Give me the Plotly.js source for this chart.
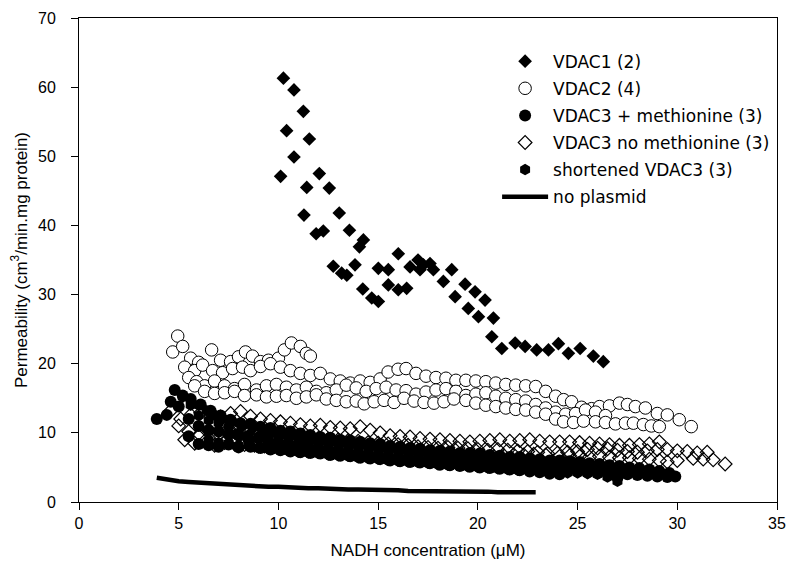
<!DOCTYPE html>
<html>
<head>
<meta charset="utf-8">
<script src="https://cdn.plot.ly/plotly-3.0.1.min.js"></script>
<style>html,body{margin:0;padding:0;background:#fff;}#chart{width:789px;height:570px;}</style>
</head>
<body>
<div id="chart"></div>
<script>
// ---------- Data ----------
const seriesNames = ["VDAC1 (2)", "VDAC2 (4)", "VDAC3 + methionine (3)", "VDAC3 no methionine (3)", "shortened VDAC3 (3)", "no plasmid"];

// VDAC1 (filled diamonds)
const vdac1X = [10.11,10.25,10.41,10.78,10.78,11.25,11.28,11.42,11.55,11.89,12.05,12.25,12.55,12.75,13.05,13.17,13.43,13.56,13.84,14.06,14.23,14.26,14.68,15.01,15.01,15.51,15.51,16.01,16.01,16.43,16.6,17.0,17.1,17.27,17.6,17.77,18.27,18.69,18.86,19.36,19.52,19.86,20.03,20.36,20.7,20.78,21.2,21.87,22.37,22.95,23.54,24.04,24.54,25.13,25.79,26.29];
const vdac1Y = [47.1,61.3,53.7,59.6,49.9,56.5,41.5,45.5,52.5,38.8,47.5,39.2,45.4,34.1,41.8,33.1,32.8,39.3,34.3,36.9,30.8,37.9,29.5,29.0,33.8,33.6,31.4,30.7,35.9,30.9,34.0,35.0,33.6,34.3,34.5,33.6,31.9,33.6,29.7,31.5,28.0,30.4,26.8,29.2,23.9,26.6,22.2,23.0,22.5,22.0,22.0,22.9,21.5,22.2,21.1,20.3];

// VDAC2 (open circles), four runs
const vdac2aX = [4.7,4.95,5.2,5.6,6.0,6.65,7.1,7.6,8.0,8.35,8.7,9.1,9.5,10.0,10.3,10.65,11.1,11.4,11.6];
const vdac2aY = [21.7,24.0,22.5,20.8,20.2,22.0,20.5,20.3,21.0,21.7,21.1,20.3,20.5,20.8,22.0,23.0,22.5,21.5,21.1];
const vdac2bX = [5.3,5.8,6.2,6.7,7.2,7.7,8.2,8.6,9.1,9.6,10.1,10.6,11.1,11.6,12.1,12.6,13.1,13.6,14.1,14.6,15.1,15.5,16.0,16.4,16.9,17.4,17.9,18.4,18.9,19.4,19.9,20.4,20.9,21.4,21.9,22.4,22.9,23.4,23.9,24.3,24.7,25.2,25.7,26.1,26.6,27.1,27.5,27.9,28.4,29.0,29.5,30.1,30.7];
const vdac2bY = [19.5,19.0,19.8,19.0,18.7,19.3,19.5,19.0,19.6,20.0,19.5,19.0,18.6,18.3,18.6,17.8,17.5,17.2,17.5,17.3,17.8,18.8,19.2,19.3,18.6,18.2,18.0,17.9,17.6,17.6,17.5,17.4,17.2,17.0,16.9,16.8,16.7,16.0,15.3,14.8,14.5,13.7,13.5,13.8,13.9,14.3,14.1,13.8,13.6,12.8,12.6,11.9,10.9];
const vdac2cX = [5.5,5.9,6.3,6.8,7.3,7.8,8.3,8.9,9.4,9.9,10.4,10.9,11.4,11.9,12.4,12.9,13.4,13.9,14.4,14.9,15.4,15.9,16.4,16.9,17.4,17.9,18.4,18.9,19.4,19.9,20.4,20.9,21.4,21.9,22.4,22.9,23.4,23.9,24.4,24.9,25.4,25.9,26.4];
const vdac2cY = [18.0,17.4,16.8,17.5,16.8,16.4,17.0,16.2,16.8,17.0,16.6,16.2,16.6,16.0,15.8,16.2,16.9,16.5,16.0,16.4,16.6,16.2,16.1,15.6,15.9,16.2,16.4,16.0,15.4,15.6,15.8,15.3,15.0,14.8,14.6,14.1,13.6,13.0,12.7,12.8,13.3,13.0,12.5];
const vdac2dX = [5.8,6.3,6.8,7.3,7.8,8.3,8.9,9.4,9.9,10.4,10.9,11.4,11.9,12.4,12.9,13.4,13.9,14.3,14.8,15.3,15.8,16.3,16.8,17.3,17.8,18.3,18.8,19.4,19.9,20.4,20.9,21.4,21.9,22.4,22.9,23.4,23.9,24.3,24.8,25.3,25.9,26.4,26.9,27.4,27.8,28.3,28.7,29.1];
const vdac2dY = [16.8,16.0,15.7,15.8,16.0,15.4,15.5,15.2,15.3,15.4,15.0,15.2,15.5,14.9,14.7,14.5,14.6,14.2,14.5,14.7,14.4,15.0,14.6,14.4,14.3,14.5,14.9,14.7,14.3,14.0,13.8,13.6,13.4,13.3,13.0,12.7,12.0,11.6,11.5,11.7,11.6,11.5,11.3,11.4,11.4,11.2,11.0,10.9];

// VDAC3 + methionine (filled circles), three runs
const met1X = [3.9,4.4,4.8,5.2,5.6,6.1,6.6,7.1,7.6,8.1,8.6,9.1,9.6,10.1,10.6,11.1,11.6,12.1,12.6,13.1,13.6,14.1,14.6,15.1,15.6,16.1,16.6,17.1,17.6,18.1,18.6,19.1,19.6,20.1,20.6,21.1,21.6,22.1,22.6,23.1,23.6,24.1,24.6,25.1,25.6,26.1,26.6,27.1,27.6,28.1,28.6,29.1,29.6];
const met1Y = [12.0,12.6,16.2,15.4,14.9,14.1,13.2,12.5,11.9,11.4,11.3,10.9,10.7,10.3,10.2,9.9,9.7,9.4,9.3,9.0,8.9,8.7,8.5,8.4,8.1,8.0,7.8,7.7,7.5,7.4,7.3,7.1,7.1,7.0,6.8,6.7,6.5,6.5,6.3,6.2,6.0,6.0,5.9,5.8,5.6,5.5,5.3,5.2,5.0,4.9,4.7,4.5,4.2];
const met2X = [4.6,5.0,5.5,6.0,6.5,7.0,7.5,8.0,8.5,9.0,9.5,10.0,10.5,11.0,11.5,12.0,12.5,13.0,13.5,14.0,14.5,15.0,15.5,16.0,16.5,17.0,17.5,18.0,18.5,19.0,19.5,20.0,20.5,21.0,21.5,22.0,22.5,23.0,23.5,24.0,24.5,25.0,25.5,26.0,26.5,27.0,27.5,28.0,28.5,29.0,29.5,29.9];
const met2Y = [14.5,13.8,12.0,11.0,10.4,10.2,9.8,9.6,9.0,9.2,8.8,8.6,8.3,8.4,8.0,7.8,7.6,7.5,7.2,7.0,6.9,6.7,6.6,6.4,6.3,6.2,6.0,5.9,5.8,5.7,5.6,5.5,5.3,5.2,5.2,5.0,4.9,4.8,4.7,4.6,4.5,4.4,4.3,4.2,4.1,3.5,4.0,3.9,3.8,3.7,3.6,3.7];
const met3X = [5.5,6.0,6.5,7.0,7.5,8.0,8.6,9.1,9.6,10.1,10.6,11.1,11.6,12.1,12.6,13.1,13.6,14.1,14.6,15.1,15.6,16.1,16.6,17.1,17.6,18.1,18.6,19.1,19.6,20.1,20.6,21.1,21.6,22.1,22.6,23.1,23.6,24.1];
const met3Y = [9.5,8.4,8.2,8.0,8.3,7.9,8.0,7.8,7.6,7.5,7.3,7.2,7.1,7.0,6.8,6.7,6.6,6.4,6.3,6.2,6.0,5.9,5.8,5.7,5.6,5.4,5.3,5.2,5.1,5.0,4.9,4.8,4.7,4.6,4.4,4.3,4.1,4.0];

// VDAC3 no methionine (open diamonds), three runs
const nomet1X = [4.6,5.1,5.6,6.1,6.6,7.1,7.6,8.1,8.6,9.1,9.6,10.1,10.6,11.1,11.6,12.1,12.6,13.1,13.6,14.1,14.6,15.1,15.6,16.1,16.6,17.1,17.6,18.1,18.6,19.1,19.6,20.1,20.6,21.1,21.6,22.1,22.6,23.1,23.6,24.1,24.6,25.1,25.6,26.1,26.6,27.1,27.6,28.1,28.6,29.1];
const nomet1Y = [13.2,12.0,12.6,12.9,12.5,12.3,12.8,13.1,12.4,12.0,11.8,11.6,11.4,11.2,11.0,11.1,10.8,10.7,10.6,10.9,10.4,10.0,9.6,9.5,9.4,9.2,9.1,9.0,8.9,8.8,8.7,8.8,8.9,9.0,8.8,8.9,9.0,8.8,8.7,8.7,8.7,8.6,8.5,8.4,8.3,8.2,8.2,8.3,8.4,8.7];
const nomet2X = [5.0,5.5,6.0,6.5,7.0,7.5,8.0,8.5,9.0,9.5,10.0,10.5,11.0,11.5,12.0,12.5,13.0,13.5,14.0,14.5,15.0,15.5,16.0,16.5,17.0,17.5,18.0,18.5,19.0,19.5,20.0,20.5,21.0,21.5,22.0,22.5,23.0,23.5,24.0,24.5,25.0,25.5,26.0,26.5,27.0,27.5,28.0,28.5,29.0,29.5,30.0,30.5,31.0,31.5];
const nomet2Y = [11.0,10.2,9.5,10.3,9.8,10.6,10.4,10.2,10.0,9.9,9.7,9.6,9.5,9.3,9.2,9.1,9.0,8.9,8.8,8.6,8.5,8.4,8.3,8.2,8.0,7.9,7.8,7.9,7.8,7.7,7.6,7.5,7.6,7.5,7.4,7.3,7.2,7.0,7.1,7.2,7.3,7.6,7.8,7.7,7.5,7.3,7.2,7.4,7.6,7.6,7.4,7.3,7.1,7.2];
const nomet3X = [5.3,5.8,6.3,6.8,7.3,7.8,8.3,8.8,9.3,9.8,10.3,10.8,11.3,11.8,12.3,12.8,13.3,13.8,14.3,14.8,15.3,15.8,16.3,16.8,17.3,17.8,18.3,18.8,19.3,19.8,20.3,20.8,21.3,21.8,22.3,22.8,23.4,24.1,24.6,25.1,25.6,26.1,26.6,27.1,27.6,28.1,28.6,29.1,29.5,30.0,30.8,31.3,31.8,32.4];
const nomet3Y = [9.0,8.5,8.8,8.2,8.6,8.4,8.3,8.2,8.1,8.0,7.9,7.8,7.7,7.6,7.5,7.4,7.4,7.3,7.2,7.2,7.1,7.0,6.9,6.9,6.8,6.8,6.7,6.7,6.6,6.6,6.6,6.6,6.7,6.8,6.8,6.9,6.8,6.6,6.7,6.6,6.5,6.6,6.5,6.4,6.4,6.3,6.2,6.0,5.8,6.0,6.3,6.2,6.1,5.5];

// shortened VDAC3 (filled hexagons), three runs
const short1X = [6.0,6.4,6.8,7.2,7.7,8.2,8.7,9.2,9.7,10.2,10.7,11.2,11.7,12.2,12.7,13.2,13.7,14.2,14.7,15.2,15.7,16.2,16.7,17.2,17.7,18.2,18.7,19.2,19.7,20.2,20.7,21.2,21.7,22.2,22.7,23.2,23.7,24.2,24.7,25.2,25.7,26.2,26.7,27.2];
const short1Y = [14.0,13.2,12.6,12.0,11.6,11.0,10.7,10.3,10.1,9.8,9.7,9.4,9.2,9.0,8.8,8.6,8.4,8.3,8.1,7.9,7.8,7.6,7.4,7.3,7.1,7.0,6.8,6.7,6.5,6.4,6.3,6.1,6.0,5.9,5.8,5.6,5.5,5.4,5.3,5.2,5.1,5.0,4.9,4.8];
const short2X = [5.2,5.6,6.0,6.5,7.0,7.5,8.0,8.5,9.0,9.5,10.0,10.5,11.0,11.5,12.0,12.5,13.0,13.5,14.0,14.5,15.0,15.5,16.0,16.5,17.0,17.5,18.0,18.5,19.0,19.5,20.0,20.5,21.0,21.5,22.0,22.5,23.0,23.5,24.0,24.5,25.0,25.5,26.0,26.5,27.0,27.5,28.0];
const short2Y = [15.2,14.0,12.5,11.8,11.4,10.9,10.0,9.7,9.5,9.3,9.1,8.9,8.7,8.6,8.4,8.2,8.1,7.9,7.8,7.6,7.5,7.3,7.2,7.0,6.9,6.8,6.6,6.5,6.4,6.2,6.1,6.0,5.9,5.7,5.6,5.5,5.4,5.3,5.2,5.0,4.9,4.8,4.7,4.6,4.5,4.4,4.3];
const short3X = [6.5,7.0,7.5,8.0,8.5,9.0,9.5,10.0,10.5,11.0,11.5,12.0,12.5,13.0,13.5,14.0,14.5,15.0,15.5,16.0,16.5,17.0,17.5,18.0,18.5,19.0,19.5,20.0,20.5,21.0,21.5,22.0,22.5,23.0,23.5,24.0,24.5,25.0,25.5,26.0,26.5,27.0];
const short3Y = [9.0,8.6,8.5,8.2,8.1,7.8,7.7,7.6,7.4,7.2,7.1,7.0,6.8,6.7,6.6,6.4,6.3,6.2,6.0,5.9,5.8,5.7,5.6,5.4,5.3,5.3,5.1,5.0,4.9,4.8,4.7,4.6,4.6,4.5,4.4,4.3,4.2,4.2,4.1,4.0,3.6,3.0];

// no plasmid (thick line)
const noPlasmidX = [3.9,4.5,5.0,5.5,6.0,6.5,7.0,7.5,8.0,8.5,9.0,9.5,10.0,10.5,11.0,11.5,12.0,12.5,13.0,13.5,14.0,14.5,15.0,15.5,16.0,16.5,17.0,17.5,18.0,18.5,19.0,19.5,20.0,20.5,21.0,21.5,22.0,22.5,22.9];
const noPlasmidY = [3.5,3.2,3.0,2.9,2.8,2.7,2.6,2.5,2.5,2.4,2.3,2.2,2.2,2.1,2.1,2.0,2.0,1.9,1.9,1.8,1.8,1.8,1.7,1.7,1.7,1.6,1.6,1.6,1.6,1.5,1.5,1.5,1.5,1.5,1.4,1.4,1.4,1.4,1.4];

// ---------- Build traces ----------
const cat = (...a) => [].concat(...a);
const FONT = "Liberation Sans, Arial, sans-serif";

const traces = [
  {name: seriesNames[0], x: vdac1X, y: vdac1Y, type: "scatter", mode: "markers", legendgroup: "g1",
   marker: {symbol: "diamond", size: 10.5, color: "#000", line: {width: 0}}},
  {name: seriesNames[1], x: cat(vdac2aX, vdac2bX, vdac2cX, vdac2dX), y: cat(vdac2aY, vdac2bY, vdac2cY, vdac2dY),
   type: "scatter", mode: "markers", legendgroup: "g2",
   marker: {symbol: "circle", size: 12.5, color: "#fff", line: {color: "#000", width: 1}}},
  {name: seriesNames[2], x: cat(met1X, met2X, met3X), y: cat(met1Y, met2Y, met3Y),
   type: "scatter", mode: "markers", legendgroup: "g3",
   marker: {symbol: "circle", size: 12, color: "#000", line: {width: 0}}},
  {name: seriesNames[3], x: cat(nomet1X, nomet2X, nomet3X), y: cat(nomet1Y, nomet2Y, nomet3Y),
   type: "scatter", mode: "markers", legendgroup: "g4",
   marker: {symbol: "diamond-open", size: 10.5, color: "#000", line: {color: "#000", width: 1.2}}},
  {name: seriesNames[4], x: cat(short1X, short2X, short3X), y: cat(short1Y, short2Y, short3Y),
   type: "scatter", mode: "markers", legendgroup: "g5",
   marker: {symbol: "hexagon", size: 11.5, color: "#000", line: {width: 0}}},
  {name: seriesNames[5], x: noPlasmidX, y: noPlasmidY, type: "scatter", mode: "lines", legendgroup: "g6",
   line: {color: "#000", width: 4.5}}
];

const axisCommon = {
  showline: true, linecolor: "#000", linewidth: 1, mirror: true,
  ticks: "outside", ticklen: 7, tickcolor: "#000", tickwidth: 1,
  showgrid: false, zeroline: false,
  tickfont: {family: FONT, size: 16, color: "#000"}
};

const layout = {
  width: 789, height: 570,
  margin: {l: 79, r: 12, t: 18, b: 68},
  paper_bgcolor: "#fff", plot_bgcolor: "#fff",
  showlegend: true,
  legend: {x: 0.599, y: 0.947, xanchor: "left", yanchor: "top",
           font: {family: "DejaVu Sans, Verdana, sans-serif", size: 17, color: "#000"},
           bgcolor: "rgba(0,0,0,0)", borderwidth: 0, tracegroupgap: 2, traceorder: "grouped",
           itemwidth: 46},
  xaxis: Object.assign({}, axisCommon, {range: [0, 35], dtick: 5, tick0: 0,
           title: {text: "NADH concentration (μM)", font: {family: FONT, size: 17, color: "#000"}, standoff: 12}}),
  yaxis: Object.assign({}, axisCommon, {range: [0, 70], dtick: 10, tick0: 0, ticklabelstandoff: 12,
           title: {text: "Permeability (cm<sup>3</sup>/min.mg protein)", font: {family: FONT, size: 17, color: "#000"}, standoff: 6}})
};

Plotly.newPlot("chart", traces, layout, {displayModeBar: false, staticPlot: true});
</script>
</body>
</html>
